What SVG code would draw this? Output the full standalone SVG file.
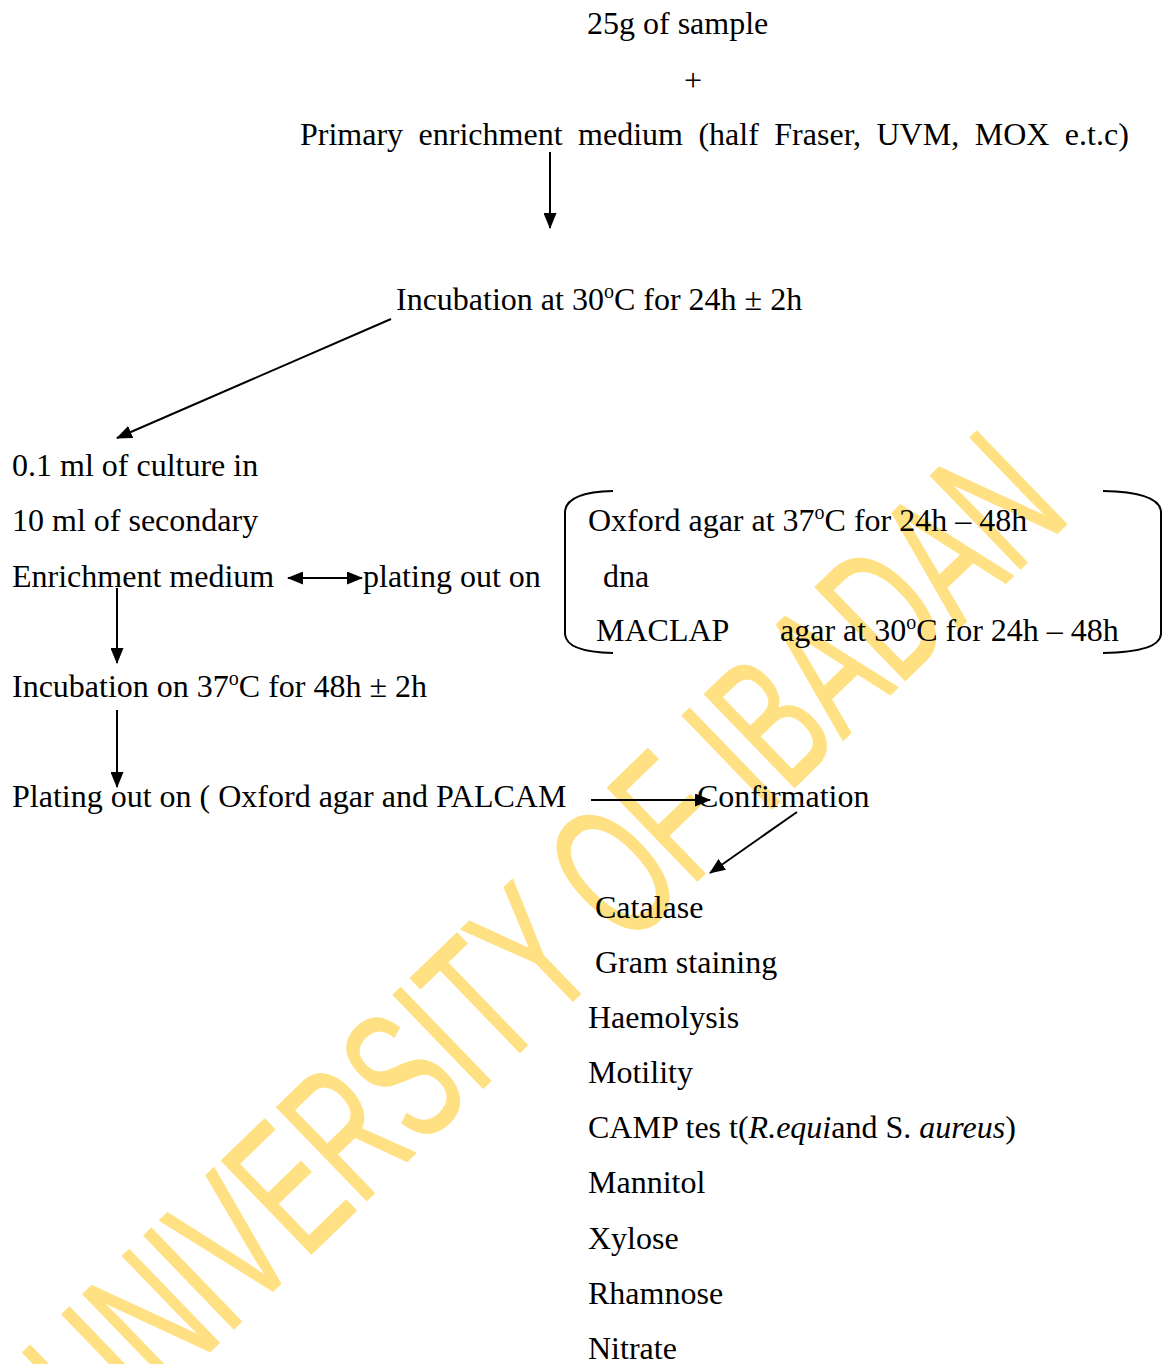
<svg xmlns="http://www.w3.org/2000/svg" width="1163" height="1364" viewBox="0 0 1163 1364">
<defs>
<style>
text{font-family:"Liberation Serif","Times New Roman",serif;font-size:32px;fill:#000}
.c{stroke:#000;stroke-width:2;fill:none}
.wm{font-family:"Liberation Sans",Arial,sans-serif;font-size:188px;fill:#FFE083;stroke:#FFE083;stroke-width:1.5;stroke-linejoin:round}
.i{font-style:italic}
</style>
<marker id="ah" viewBox="0 0 16 13" refX="15" refY="6.5" markerWidth="16" markerHeight="13" markerUnits="userSpaceOnUse" orient="auto-start-reverse">
<path d="M0,0 L16,6.5 L0,13 z" fill="#000"/>
</marker>
</defs>
<rect width="1163" height="1364" fill="#fff"/>
<g id="watermark">
<text class="wm" x="106" y="1452" transform="rotate(-44 106 1452)" textLength="1345" lengthAdjust="spacingAndGlyphs">UNIVERSITY OF IBADAN</text>
</g>
<g id="connectors">
<line class="c" x1="550" y1="152" x2="550" y2="228" marker-end="url(#ah)"/>
<line class="c" x1="391" y1="319" x2="117" y2="438" marker-end="url(#ah)"/>
<line class="c" x1="288" y1="578" x2="362" y2="578" marker-start="url(#ah)" marker-end="url(#ah)"/>
<line class="c" x1="117" y1="588" x2="117" y2="663" marker-end="url(#ah)"/>
<line class="c" x1="117" y1="710" x2="117" y2="787" marker-end="url(#ah)"/>
<line class="c" x1="591" y1="800" x2="710" y2="800" marker-end="url(#ah)"/>
<line class="c" x1="797" y1="812" x2="710" y2="873" marker-end="url(#ah)"/>
</g>
<g id="n-sample"><text x="587" y="34">25g of sample</text></g>
<g id="n-plus"><text x="684" y="91">+</text></g>
<g id="n-primary"><text x="300" y="145" word-spacing="7.5">Primary enrichment medium (half Fraser, UVM, MOX e.t.c)</text></g>
<g id="n-incub30"><text x="396" y="310">Incubation at 30<tspan font-size="20" dy="-12">o</tspan><tspan dy="12">C for 24h ± 2h</tspan></text></g>
<g id="n-secondary">
<text x="12" y="476">0.1 ml of culture in</text>
<text x="12" y="531">10 ml of secondary</text>
<text x="12" y="587">Enrichment medium</text>
</g>
<g id="n-plating1"><text x="363" y="587">plating out on</text></g>
<g id="n-media">
<path class="c" d="M613,491 Q566,492 565,512 L565,634 Q566,652 613,653"/>
<path class="c" d="M1103,491 Q1160,492 1161,512 L1161,634 Q1160,652 1103,653"/>
<text x="588" y="531">Oxford agar at 37<tspan font-size="20" dy="-12">o</tspan><tspan dy="12">C for 24h – 48h</tspan></text>
<text x="603" y="587">dna</text>
<text x="596" y="641">MACLAP</text>
<text x="780" y="641">agar at 30<tspan font-size="20" dy="-12">o</tspan><tspan dy="12">C for 24h – 48h</tspan></text>
</g>
<g id="n-incub37"><text x="12" y="697">Incubation on 37<tspan font-size="20" dy="-12">o</tspan><tspan dy="12">C for 48h ± 2h</tspan></text></g>
<g id="n-plating2"><text x="12" y="807">Plating out on ( Oxford agar and PALCAM</text></g>
<g id="n-confirmation"><text x="697" y="807">Confirmation</text></g>
<g id="n-tests">
<text x="595" y="918">Catalase</text>
<text x="595" y="973">Gram staining</text>
<text x="588" y="1028">Haemolysis</text>
<text x="588" y="1083">Motility</text>
<text x="588" y="1138">CAMP tes t(<tspan class="i">R.equi</tspan>and S. <tspan class="i">aureus</tspan>)</text>
<text x="588" y="1193">Mannitol</text>
<text x="588" y="1249">Xylose</text>
<text x="588" y="1304">Rhamnose</text>
<text x="588" y="1359">Nitrate</text>
</g>
</svg>
